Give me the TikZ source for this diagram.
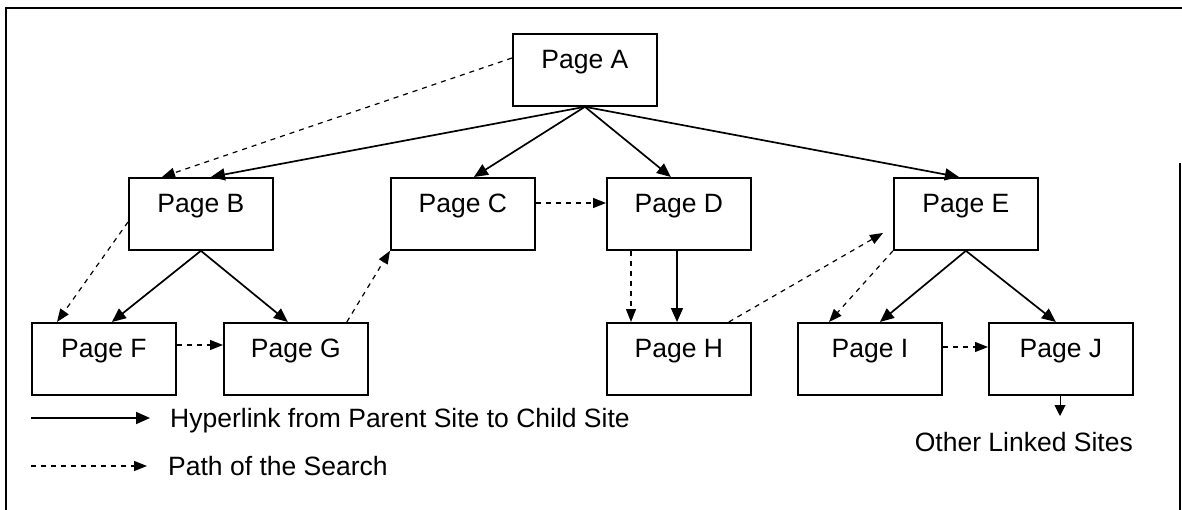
\documentclass[tikz,border=0pt]{standalone}
\usepackage{fontspec}
\setmainfont{Liberation Sans}
\usetikzlibrary{arrows.meta}
\begin{document}
\begin{tikzpicture}[x=1pt,y=-1pt,
  font=\fontsize{26.5}{30}\selectfont,
  page/.style={draw,line width=1.8pt,anchor=north west,minimum width=144pt,
    inner xsep=0pt,inner ysep=0pt,text height=35pt,text depth=37pt},
  link/.style={line width=1.7pt,-{Triangle[length=14pt,width=12pt]}},
  search/.style={line width=1.2pt,dash pattern=on 5pt off 5pt,
    -{Triangle[length=13pt,width=10pt]}},
  lbl/.style={inner sep=0pt}]
\useasboundingbox (0,0) rectangle (1182,510);

% frame
\draw[line width=2pt] (6,510) -- (6,8) -- (1182,8);
\draw[line width=2pt] (1180,163) -- (1180,510);

% pages
\node[page] (A) at (512,33)  {Page A};
\node[page] (B) at (128,177) {Page B};
\node[page] (C) at (390,177) {Page C};
\node[page] (D) at (606,177) {Page D};
\node[page] (E) at (893,177) {Page E};
\node[page] (F) at (31,322)  {Page F};
\node[page] (G) at (223,322) {Page G};
\node[page] (H) at (606,322) {Page H};
\node[page] (I) at (797,322) {Page I};
\node[page] (J) at (988,322) {Page J};

% hyperlinks from parent to child
\draw[link] (A.south) -- ([xshift=10pt]B.north);
\draw[link] (A.south) -- ([xshift=11pt]C.north);
\draw[link] (A.south) -- ([xshift=-8pt]D.north);
\draw[link] (A.south) -- ([xshift=-7pt]E.north);
\draw[link] (B.south) -- ([xshift=8pt]F.north);
\draw[link] (B.south) -- ([xshift=-8pt]G.north);
\draw[link] ([xshift=71pt]D.south west) -- ([xshift=71pt]H.north west);
\draw[link] (E.south) -- ([xshift=10pt]I.north);
\draw[link] (E.south) -- ([xshift=-5pt]J.north);

% path of the search
\draw[search] ([yshift=-25pt]A.north west) -- ([xshift=34pt]B.north west);
\draw[search] ([yshift=-45pt]B.north west) -- ([xshift=26pt]F.north west);
\draw[search] ([yshift=-23pt]F.north east) -- ([yshift=-23pt]G.north west);
\draw[search] ([xshift=-22pt]G.north east) -- (C.south west);
\draw[search] ([yshift=-26pt]C.north east) -- ([yshift=-26pt]D.north west);
\draw[search] ([xshift=25pt]D.south west) -- ([xshift=25pt]H.north west);
\draw[search] ([xshift=-23pt]H.north east) -- ([xshift=-10pt,yshift=-56pt]E.north west);
\draw[search] (E.south west) -- ([xshift=32pt]I.north west);
\draw[search] ([yshift=-25pt]I.north east) -- ([yshift=-25pt]J.north west);

% onward links
\coordinate (jout) at (1060,416);
\draw[line width=0.9pt,-{Triangle[length=11pt,width=11pt]}] (J.south -| jout) -- (jout);
\node[lbl,anchor=base east] (other) at (1133,451) {Other Linked Sites};

% legend
\coordinate (l1a) at (31,418);
\coordinate (l1b) at (150,418);
\coordinate (l2a) at (31,466);
\coordinate (l2b) at (147,466);
\draw[link] (l1a) -- (l1b);
\draw[search] (l2a) -- (l2b);
\node[lbl,anchor=base west] (lg1) at (170,427) {Hyperlink from Parent Site to Child Site};
\node[lbl,anchor=base west] (lg2) at (168,475) {Path of the Search};
\end{tikzpicture}
\end{document}
